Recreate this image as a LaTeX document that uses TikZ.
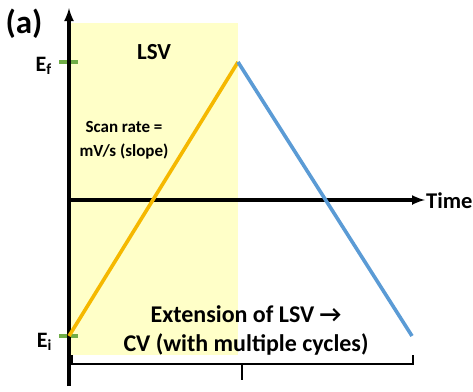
\documentclass[tikz,border=0pt]{standalone}
\usepackage{fontspec}
\setmainfont{Carlito}
\usepackage{tikz}
\usetikzlibrary{arrows, positioning}
\definecolor{lsvyellow}{HTML}{FFFFC8}
\definecolor{scangold}{HTML}{F5B800}
\definecolor{scanblue}{HTML}{5B9BD5}
\definecolor{tickgreen}{HTML}{70AD47}
\tikzstyle{axis} = [line width=3.4pt,->,>=latex]
\tikzstyle{scan} = [line width=3.6pt]
\tikzstyle{tick} = [line width=3.6pt, tickgreen]
\tikzstyle{label} = [font=\bfseries, text centered, inner sep=0pt]
\tikzstyle{bracket} = [line width=1.5pt]

\begin{document}
\begin{tikzpicture}[x=1pt, y=-1pt]
                \useasboundingbox (0,0) rectangle (473,391);
                \fill [lsvyellow] (69,23) rectangle (238,355);
                
                \coordinate (ybot) at (69,386);
                \coordinate (ytop) at (69,8);
                \coordinate (xleft) at (69,200);
                \coordinate (xright) at (425,200);
                \coordinate (start) at (69,336);
                \coordinate (peak) at (238,62);
                \coordinate (stop) at (412,336);
                
                \node (panel) [label, font=\bfseries\fontsize{33}{35}\selectfont] at (24,24) {(a)};
                \node (ef) [label, anchor=east, font=\bfseries\fontsize{22}{24}\selectfont] at (52,66) {E\textsubscript{f}};
                \node (ei) [label, anchor=east, font=\bfseries\fontsize{22}{24}\selectfont] at (52,342) {E\textsubscript{i}};
                \node (lsv) [label, font=\bfseries\fontsize{23}{25}\selectfont] at (154,52) {LSV};
                \node (rate) [label, align=center, font=\bfseries\fontsize{17}{24}\selectfont] at (124,140) {Scan rate =\\mV/s (slope)};
                \node (cv) [label, align=center, font=\bfseries\fontsize{24}{29}\selectfont] at (246,330) {Extension of LSV \textrightarrow\\CV (with multiple cycles)};
                \node (time) [label, anchor=west, font=\bfseries\fontsize{22.5}{24}\selectfont] at (426,201) {Time};
                
                \draw [tick] (59,62) -- (78,62);
                \draw [tick] (59,336) -- (78,336);
                \draw [axis] (ybot) -- (ytop);
                \draw [axis] (xleft) -- (xright);
                \draw [scan, scangold] (start) -- (peak);
                \draw [scan, scanblue, line join=round] (peak) -- (stop);
                
                \draw [bracket] (72,355) -- (72,364) -- (413,364) -- (413,355);
                \draw [bracket] (242,364) -- (242,380);
            \end{tikzpicture}
\end{document}
